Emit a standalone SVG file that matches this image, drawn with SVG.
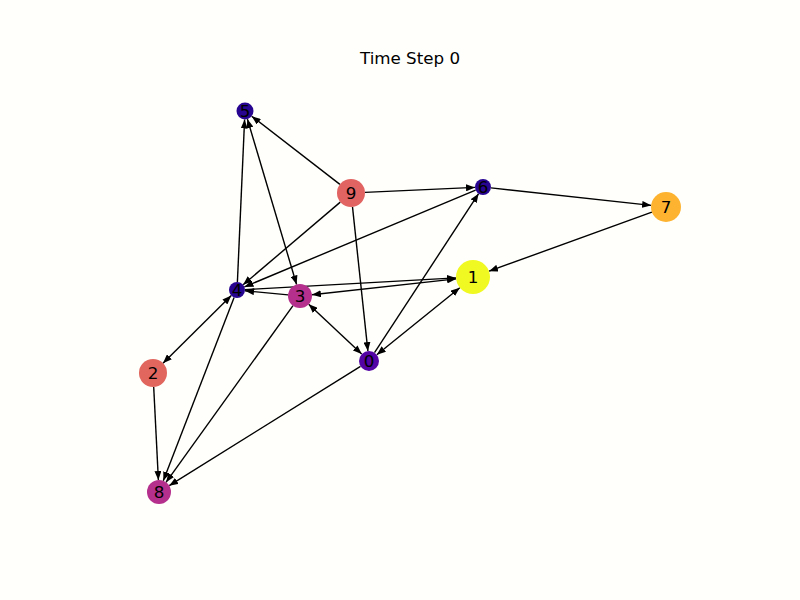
<svg xmlns="http://www.w3.org/2000/svg" width="800" height="600" viewBox="0 0 800 600">
<style>
.e{stroke:#000;stroke-width:1.4;fill:none;marker-end:url(#ah)}
.b{marker-start:url(#ahs)}
.n text{font-family:"DejaVu Sans","Liberation Sans",sans-serif;font-size:16.7px;fill:#000;text-anchor:middle;dominant-baseline:central}
.t{font-family:"DejaVu Sans","Liberation Sans",sans-serif;font-size:16.7px;fill:#000;text-anchor:middle}
</style>
<defs>
<marker id="ah" viewBox="0 0 9 7" refX="9" refY="3.5" markerWidth="9" markerHeight="7" markerUnits="userSpaceOnUse" orient="auto"><path d="M0,0 L9,3.5 L0,7 z" fill="#000"/></marker>
<marker id="ahs" viewBox="0 0 9 7" refX="9" refY="3.5" markerWidth="9" markerHeight="7" markerUnits="userSpaceOnUse" orient="auto-start-reverse"><path d="M0,0 L9,3.5 L0,7 z" fill="#000"/></marker>
</defs>
<rect width="800" height="600" fill="#fffffc"/>
<text class="t" x="410" y="64">Time Step 0</text>
<g id="edges">
<line class="e" x1="339.9" y1="184.4" x2="251.7" y2="116.2"/>
<line class="e" x1="365" y1="192.4" x2="475" y2="187.4"/>
<line class="e" x1="340.3" y1="202.1" x2="243.1" y2="284.8"/>
<line class="e" x1="352.5" y1="206.9" x2="367.9" y2="351.1"/>
<line class="e" x1="491" y1="187.9" x2="651.1" y2="205.4"/>
<line class="e" x1="475.6" y1="190.1" x2="244.4" y2="286.9"/>
<line class="e" x1="651.9" y1="212.1" x2="489" y2="271.2"/>
<line class="e" x1="237.4" y1="282" x2="244.6" y2="119.5"/>
<line class="e b" x1="296.6" y1="284.5" x2="247.4" y2="119.1"/>
<line class="e" x1="245" y1="289.6" x2="456" y2="277.9"/>
<line class="e b" x1="311.9" y1="294.7" x2="456.1" y2="278.9"/>
<line class="e" x1="288.1" y1="294.9" x2="245" y2="290.8"/>
<line class="e b" x1="308.7" y1="304.2" x2="361.7" y2="354.1"/>
<line class="e" x1="374.5" y1="352.6" x2="478.6" y2="193.7"/>
<line class="e b" x1="376.8" y1="354.7" x2="459.8" y2="287.7"/>
<line class="e b" x1="231.3" y1="295.6" x2="163" y2="363.2"/>
<line class="e" x1="153.7" y1="387" x2="158.4" y2="480"/>
<line class="e" x1="234.1" y1="297.5" x2="163.3" y2="480.8"/>
<line class="e" x1="293" y1="305.7" x2="166" y2="482.3"/>
<line class="e" x1="360.5" y1="366.3" x2="169.2" y2="485.7"/>
</g>
<g id="node0" class="n"><circle cx="369" cy="361" r="10" fill="#5302a3"/><text x="369" y="361">0</text></g>
<g id="node1" class="n"><circle cx="473" cy="277" r="17" fill="#f0f921"/><text x="473" y="277">1</text></g>
<g id="node2" class="n"><circle cx="153" cy="373" r="14" fill="#e0665e"/><text x="153" y="373">2</text></g>
<g id="node3" class="n"><circle cx="300" cy="296" r="12" fill="#b52f8c"/><text x="300" y="296">3</text></g>
<g id="node4" class="n"><circle cx="237" cy="290" r="8" fill="#270591"/><text x="237" y="290">4</text></g>
<g id="node5" class="n"><circle cx="245" cy="111" r="8.5" fill="#270591"/><text x="245" y="111">5</text></g>
<g id="node6" class="n"><circle cx="483" cy="187" r="8" fill="#270591"/><text x="483" y="187">6</text></g>
<g id="node7" class="n"><circle cx="666" cy="207" r="15" fill="#fdb32f"/><text x="666" y="207">7</text></g>
<g id="node8" class="n"><circle cx="159" cy="492" r="12" fill="#b52f8c"/><text x="159" y="492">8</text></g>
<g id="node9" class="n"><circle cx="351" cy="193" r="14" fill="#e16462"/><text x="351" y="193">9</text></g>
</svg>
